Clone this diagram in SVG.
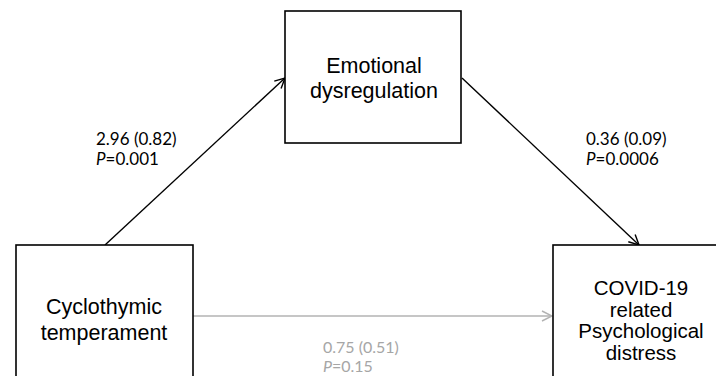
<svg xmlns="http://www.w3.org/2000/svg" width="716" height="376" viewBox="0 0 716 376">
<defs>
<style>
.box{fill:#fff;stroke:#000;stroke-width:1.6}
.nt{font-family:"Liberation Sans",Arial,sans-serif;font-size:21.5px;fill:#000;text-anchor:middle}
.nts{font-family:"Liberation Sans",Arial,sans-serif;font-size:20.5px;fill:#000;text-anchor:middle}
.lb{font-family:Lato,"Open Sans",sans-serif;font-size:17px;fill:#000}
.lbg{font-family:Lato,"Open Sans",sans-serif;font-size:16px;fill:#a6a6a6}
.ed{stroke:#000;stroke-width:1.4;fill:none}
.edg{stroke:#b3b3b3;stroke-width:1.4;fill:none}
</style>
<marker id="ah" viewBox="0 0 12 12" refX="11" refY="6" markerWidth="12" markerHeight="12" markerUnits="userSpaceOnUse" orient="auto">
<path d="M1,1 L11,6 L1,11" fill="none" stroke="#000" stroke-width="1.4"/>
</marker>
<marker id="ahg" viewBox="0 0 12 12" refX="11" refY="6" markerWidth="12" markerHeight="12" markerUnits="userSpaceOnUse" orient="auto">
<path d="M1,1 L11,6 L1,11" fill="none" stroke="#b3b3b3" stroke-width="1.4"/>
</marker>
</defs>
<rect width="716" height="376" fill="#fff"/>
<g id="connectors">
<line class="ed" x1="105" y1="245" x2="285" y2="78" marker-end="url(#ah)"/>
<line class="ed" x1="462" y1="78" x2="639" y2="245" marker-end="url(#ah)"/>
<line class="edg" x1="193" y1="316" x2="552" y2="316" marker-end="url(#ahg)"/>
</g>
<g id="node-emotional">
<rect class="box" x="285" y="11" width="176" height="132"/>
<text class="nt" x="374" y="73">Emotional</text>
<text class="nt" x="374" y="98">dysregulation</text>
</g>
<g id="node-cyclothymic">
<rect class="box" x="16" y="245" width="177" height="150"/>
<text class="nt" x="104" y="314">Cyclothymic</text>
<text class="nt" x="104" y="340">temperament</text>
</g>
<g id="node-covid">
<rect class="box" x="553" y="245" width="180" height="150"/>
<text class="nts" x="641" y="295">COVID-19</text>
<text class="nts" x="641" y="317">related</text>
<text class="nts" x="641" y="338">Psychological</text>
<text class="nts" x="641" y="360">distress</text>
</g>
<g id="labels">
<text class="lb" x="96" y="145">2.96 (0.82)</text>
<text class="lb" x="96" y="165"><tspan font-style="italic">P</tspan>=0.001</text>
<text class="lb" x="586" y="145">0.36 (0.09)</text>
<text class="lb" x="586" y="165"><tspan font-style="italic">P</tspan>=0.0006</text>
<text class="lbg" x="323" y="352.5">0.75 (0.51)</text>
<text class="lbg" x="323" y="372">
<tspan font-style="italic">P</tspan>=0.15</text>
</g>
</svg>
